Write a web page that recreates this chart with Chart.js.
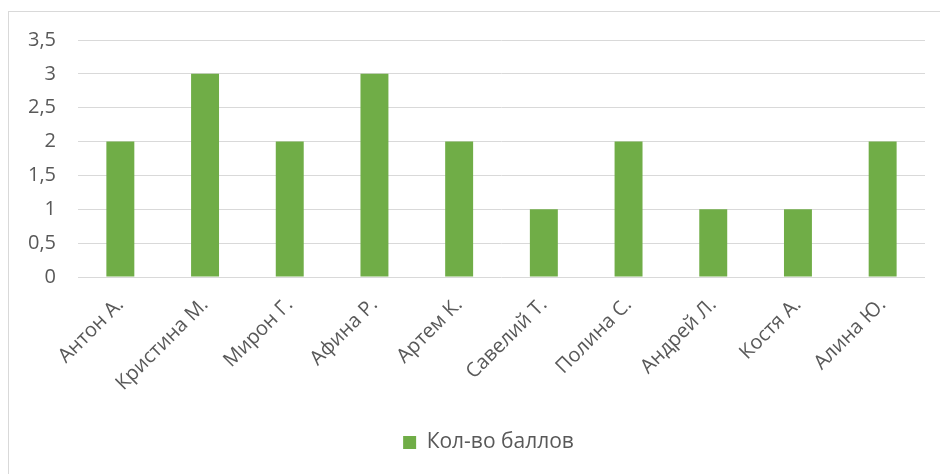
<!DOCTYPE html>
<html>
<head>
<meta charset="utf-8">
<script src="https://cdn.jsdelivr.net/npm/chart.js@4"></script>
<style>
  html, body { margin: 0; padding: 0; background: #fff; }
  #wrap { position: relative; width: 940px; height: 474px; }
  #frame { position: absolute; left: 8px; top: 11px; width: 1000px; height: 600px;
           border-left: 1px solid #d9d9d9; border-top: 1px solid #d9d9d9; }
  canvas { position: absolute; left: 0; top: 0; }
</style>
</head>
<body>
<div id="wrap">
  <div id="frame"></div>
  <canvas id="chart" width="940" height="474"></canvas>
</div>
<script>
// data
var names = ["Антон А.", "Кристина М.", "Мирон Г.", "Афина Р.", "Артем К.", "Савелий Т.", "Полина С.", "Андрей Л.", "Костя А.", "Алина Ю."];
var scores = [2, 3, 2, 3, 2, 1, 2, 1, 1, 2];
var seriesName = "Кол-во баллов";

var textColor = "#595959";
var fontName = "'Open Sans', 'DejaVu Sans', sans-serif";

// nudge legend a bit to the right, like the original
var legendShift = {
  id: 'legendShift',
  afterLayout: function(chart) {
    chart.legend.left += 52;
  }
};

new Chart(document.getElementById("chart"), {
  type: 'bar',
  data: {
    labels: names,
    datasets: [{
      label: seriesName,
      data: scores,
      backgroundColor: "#70ad47",
      borderWidth: 0,
      barPercentage: 0.33,
      categoryPercentage: 1
    }]
  },
  options: {
    responsive: false,
    animation: false,
    layout: { padding: { top: 40, right: 15, bottom: 11, left: 0 } },
    plugins: {
      tooltip: { enabled: false },
      legend: {
        position: 'bottom',
        labels: {
          color: textColor,
          boxWidth: 13,
          boxHeight: 13,
          padding: 10,
          font: { family: fontName, size: 21 }
        }
      }
    },
    scales: {
      x: {
        grid: { display: false },
        border: { display: false },
        ticks: {
          color: textColor,
          minRotation: 45,
          maxRotation: 45,
          padding: 8,
          font: { family: fontName, size: 20 }
        },
        afterFit: function(scale) { scale.height = 145; }
      },
      y: {
        min: 0,
        max: 3.5,
        border: { display: false },
        grid: { color: "#d9d9d9", lineWidth: 1, drawTicks: false },
        ticks: {
          stepSize: 0.5,
          color: textColor,
          padding: 22,
          font: { family: fontName, size: 20 },
          callback: function(v) { return String(v).replace('.', ','); }
        },
        afterFit: function(scale) { scale.width = 78; }
      }
    }
  },
  plugins: [legendShift]
});
</script>
</body>
</html>
